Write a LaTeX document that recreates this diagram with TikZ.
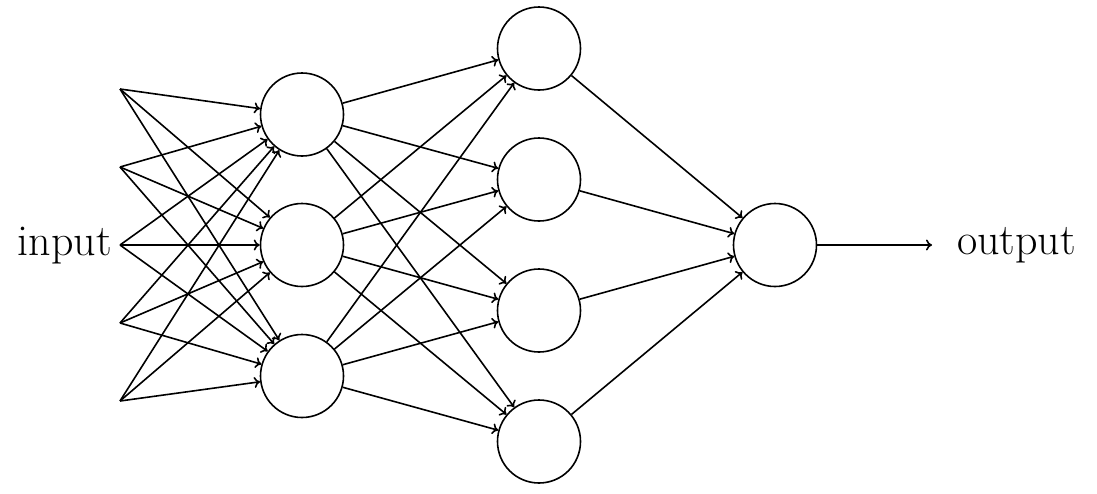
\documentclass[tikz,border=0pt]{standalone}
\usetikzlibrary{arrows.meta}
\begin{document}
\begin{tikzpicture}[x=1pt,y=-1pt,
  neuron/.style={circle,draw,line width=1.6pt,minimum size=83pt,inner sep=0pt},
  conn/.style={line width=1.6pt,-{To[length=6pt,width=11pt]}},
  lbl/.style={inner sep=0pt,font=\fontsize{44}{52}\selectfont}]
\useasboundingbox (0,0) rectangle (1097,493);
% input points
\foreach \i/\y in {1/89,2/167,3/245,4/323,5/401}
  \coordinate (in\i) at (120,\y);
% hidden layer 1
\foreach \i/\y in {1/114.5,2/245,3/376}
  \node[neuron] (a\i) at (302,\y) {};
% hidden layer 2
\foreach \i/\y in {1/48.5,2/179.5,3/310.5,4/441.5}
  \node[neuron] (b\i) at (539,\y) {};
% output neuron
\node[neuron] (o) at (775,245) {};
\coordinate (oend) at (932,245);
% labels
\node[lbl,anchor=base east] (inlbl) at (112,255) {input};
\node[lbl,anchor=base west] (outlbl) at (957,254) {output};
% connections
\foreach \i in {1,...,5}
  \foreach \j in {1,2,3}
    \draw[conn] (in\i) -- (a\j);
\foreach \i in {1,2,3}
  \foreach \j in {1,2,3,4}
    \draw[conn] (a\i) -- (b\j);
\foreach \i in {1,2,3,4}
  \draw[conn] (b\i) -- (o);
\draw[conn] (o) -- (oend);
\end{tikzpicture}
\end{document}
